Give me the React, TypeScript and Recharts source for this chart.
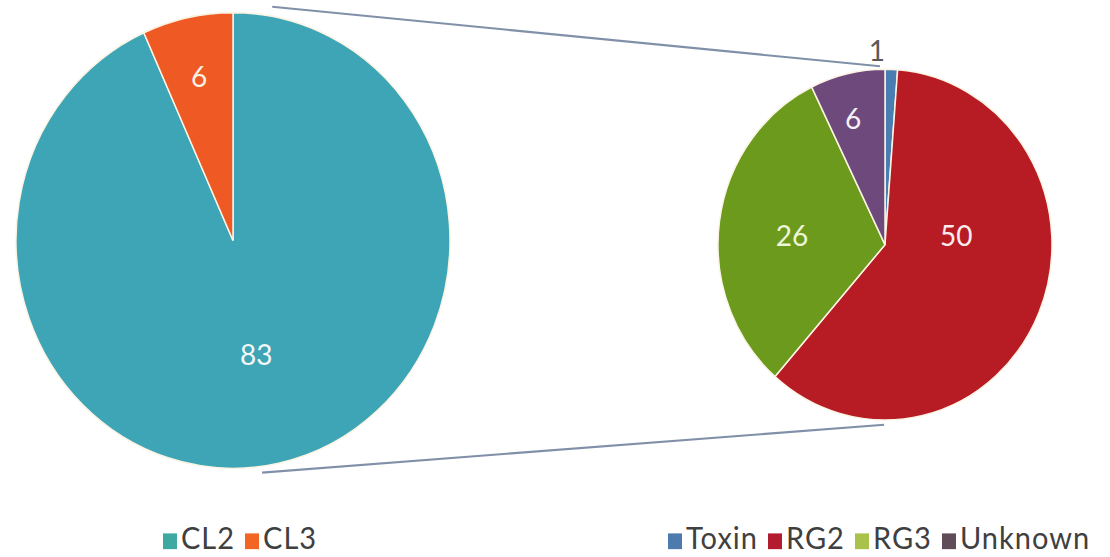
import React from 'react'
import { PieChart, Pie, Cell, Legend, Customized } from 'recharts'

// containment level split
const clNames = ['CL2', 'CL3']
const clValues = [83, 6]

// breakdown of the CL2 share
const rgNames = ['Toxin', 'RG2', 'RG3', 'Unknown']
const rgValues = [1, 50, 26, 6]

const PIE_COLORS: Record<string, string> = {
  CL2: '#3DA5B6',
  CL3: '#EF5A24',
  Toxin: '#4A7DB1',
  RG2: '#B71C24',
  RG3: '#6C9A1D',
  Unknown: '#6E4A7C',
}

const LEGEND_COLORS: Record<string, string> = {
  CL2: '#3DA9A0',
  CL3: '#F26522',
  Toxin: '#4E7BAE',
  RG2: '#B31B2E',
  RG3: '#A9C24A',
  Unknown: '#5E4C5A',
}

const W = 1110
const H = 530
const STRETCH = 1.05
const FONT = 'Lato, "Open Sans", sans-serif'
const RAD = Math.PI / 180

const LEFT = { cx: 233, cy: 229, r: 217 }
const RIGHT = { cx: 885, cy: 233, r: 167 }

// label distance (fraction of radius) and angle nudge per slice
const LABEL_PLACE: Record<string, { f: number; da: number; color: string }> = {
  CL2: { f: 0.51, da: 0, color: '#F4F8F8' },
  CL3: { f: 0.74, da: 0, color: '#FBF1E4' },
  Toxin: { f: 1.11, da: 4.7, color: '#595959' },
  RG2: { f: 0.43, da: 30, color: '#FBECEC' },
  RG3: { f: 0.56, da: 1.8, color: '#EEF6D8' },
  Unknown: { f: 0.75, da: 1.7, color: '#F6F0F8' },
}

const clData = clNames.map((name, i) => ({ name, value: clValues[i] }))
const rgData = rgNames.map((name, i) => ({ name, value: rgValues[i] }))

const renderLabel = (props: any) => {
  const { cx, cy, midAngle, outerRadius, name, value } = props
  const place = LABEL_PLACE[name]
  const a = (midAngle + place.da) * RAD
  const rr = outerRadius * place.f
  const x = cx + rr * Math.cos(a)
  const y = cy - rr * Math.sin(a)
  return (
    <text
      x={x}
      y={y}
      fill={place.color}
      fontSize={28}
      fontFamily={FONT}
      textAnchor="middle"
      dominantBaseline="central"
    >
      {value}
    </text>
  )
}

const polar = (c: { cx: number; cy: number }, deg: number, rad: number) => ({
  x: c.cx + rad * Math.cos(deg * RAD),
  y: c.cy - rad * Math.sin(deg * RAD),
})

// lines joining the CL2 pie to its breakdown
const ConnectorLines = () => {
  const a1 = polar(LEFT, 80, 226)
  const b1 = polar(RIGHT, 91.7, 170)
  const a2 = polar(LEFT, -82.5, 223)
  const b2 = polar(RIGHT, -90.3, 171.5)
  return (
    <g stroke="#8090A8" strokeWidth={2}>
      <line x1={a1.x} y1={a1.y} x2={b1.x} y2={b1.y} />
      <line x1={a2.x} y1={a2.y} x2={b2.x} y2={b2.y} />
    </g>
  )
}

const LegendGroup = ({ names, left }: { names: string[]; left: number }) => (
  <div style={{ position: 'absolute', left, top: 0, display: 'flex', alignItems: 'baseline' }}>
    {names.map((n) => (
      <span key={n} style={{ display: 'inline-flex', alignItems: 'baseline', marginRight: 10 }}>
        <span
          style={{
            display: 'inline-block',
            width: 14,
            height: 15,
            background: LEGEND_COLORS[n],
            marginRight: 4,
          }}
        />
        <span>{n}</span>
      </span>
    ))}
  </div>
)

const renderLegend = () => (
  <div
    style={{
      position: 'relative',
      width: W,
      height: 36,
      fontFamily: FONT,
      fontSize: 29,
      letterSpacing: 1,
      color: '#404040',
      lineHeight: '36px',
    }}
  >
    <LegendGroup names={clNames} left={163} />
    <LegendGroup names={rgNames} left={668} />
  </div>
)

export default function App() {
  return (
    <div
      style={{
        position: 'absolute',
        left: 0,
        top: 0,
        width: W,
        height: H,
        background: '#fff',
        transform: `scaleY(${STRETCH})`,
        transformOrigin: '0 0',
      }}
    >
      <PieChart width={W} height={H} margin={{ top: 0, right: 0, bottom: 0, left: 0 }}>
        <Customized component={ConnectorLines} />
        <Pie
          data={clData}
          dataKey="value"
          nameKey="name"
          cx={LEFT.cx}
          cy={LEFT.cy}
          outerRadius={LEFT.r}
          startAngle={90}
          endAngle={-270}
          stroke="#FBF4E4"
          strokeWidth={1.5}
          label={renderLabel}
          labelLine={false}
          isAnimationActive={false}
        >
          {clData.map((d) => (
            <Cell key={d.name} fill={PIE_COLORS[d.name]} />
          ))}
        </Pie>
        <Pie
          data={rgData}
          dataKey="value"
          nameKey="name"
          cx={RIGHT.cx}
          cy={RIGHT.cy}
          outerRadius={RIGHT.r}
          startAngle={90}
          endAngle={-270}
          stroke="#FBF4E4"
          strokeWidth={1.5}
          label={renderLabel}
          labelLine={false}
          isAnimationActive={false}
        >
          {rgData.map((d) => (
            <Cell key={d.name} fill={PIE_COLORS[d.name]} />
          ))}
        </Pie>
        <Legend content={renderLegend} wrapperStyle={{ left: 0, top: 494, width: W, height: 36 }} />
      </PieChart>
    </div>
  )
}
